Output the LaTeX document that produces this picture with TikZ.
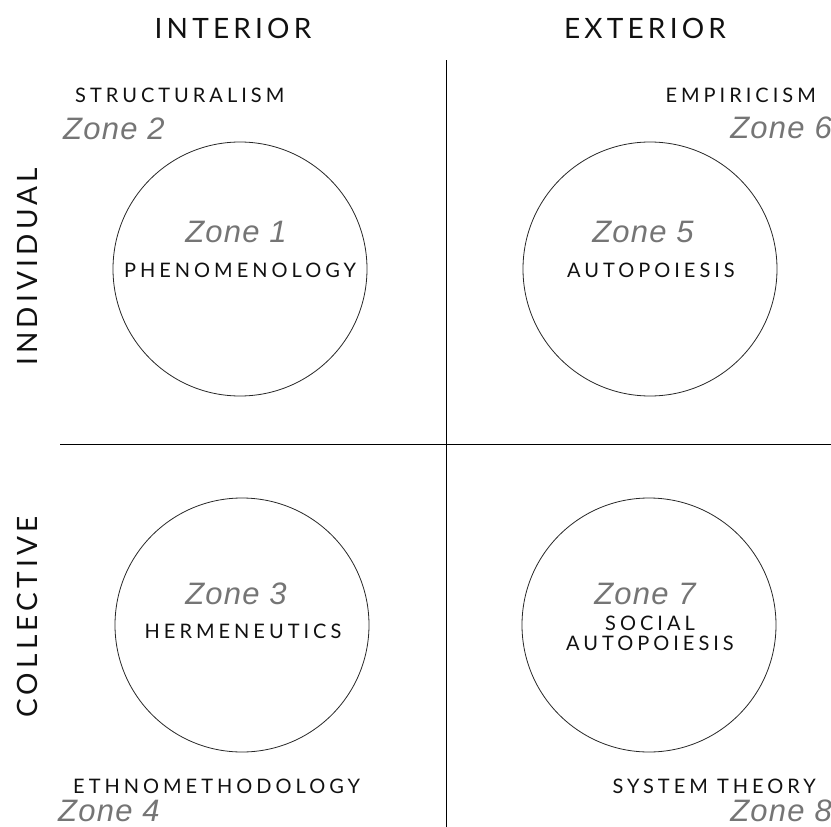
\documentclass[tikz,border=0pt]{standalone}
\usepackage{fontspec}
\setmainfont{Lato}
\newfontfamily\capsfont[LetterSpace=20]{Lato}
\newfontfamily\bigcaps[LetterSpace=15]{Lato}
\newfontfamily\zonefont[LetterSpace=4]{Liberation Sans}
\definecolor{zonegray}{HTML}{757575}
\definecolor{inkc}{HTML}{111111}
\tikzset{
  axislabel/.style={inner sep=0pt, text=inkc, font=\bigcaps\fontsize{28}{28}\selectfont},
  smallcaps/.style={inner sep=0pt, text=inkc, font=\capsfont\fontsize{20}{20}\selectfont},
  zonelabel/.style={inner sep=0pt, text=zonegray, font=\zonefont\itshape\fontsize{31}{31}\selectfont},
  zonecirc/.style={circle, draw=black!85, line width=0.8pt, minimum size=254pt, inner sep=0pt},
  axisline/.style={draw=black, line width=0.9pt}
}
\begin{document}
\begin{tikzpicture}[x=1pt,y=-1pt]
\useasboundingbox (0,0) rectangle (831,827);
% axes
\coordinate (vtop) at (446,60);
\coordinate (vbot) at (446,827);
\coordinate (hleft) at (60,444);
\coordinate (hright) at (831,444);
\draw[axisline] (vtop) -- (vbot);
\draw[axisline] (hleft) -- (hright);
% headings
\node[axislabel, anchor=base] (interior) at (233,38) {INTERIOR};
\node[axislabel, anchor=base] (exterior) at (645,38) {EXTERIOR};
\node[axislabel, rotate=90, anchor=base] (individual) at (37,267) {INDIVIDUAL};
\node[axislabel, rotate=90, anchor=base] (collective) at (37,617) {COLLECTIVE};
% circles
\node[zonecirc] (c1) at (240,269) {};
\node[zonecirc] (c5) at (650,269) {};
\node[zonecirc] (c3) at (242,625) {};
\node[zonecirc] (c7) at (649,625) {};
% circle texts
\node[zonelabel, anchor=base] (z1) at (236,242) {Zone 1};
\node[smallcaps, anchor=base] (t1) at (240,277) {PHENOMENOLOGY};
\node[zonelabel, anchor=base] (z5) at (643,242) {Zone 5};
\node[smallcaps, anchor=base] (t5) at (651,277) {AUTOPOIESIS};
\node[zonelabel, anchor=base] (z3) at (236,604) {Zone 3};
\node[smallcaps, anchor=base] (t3) at (243,638) {HERMENEUTICS};
\node[zonelabel, anchor=base] (z7) at (645,604) {Zone 7};
\node[smallcaps, anchor=base] (t7a) at (650,630) {SOCIAL};
\node[smallcaps, anchor=base] (t7b) at (650,650) {AUTOPOIESIS};
% corner texts
\node[smallcaps, anchor=base west] (t2) at (75,102) {STRUCTURALISM};
\node[zonelabel, anchor=base west] (z2) at (63,139) {Zone 2};
\node[smallcaps, anchor=base east] (t6) at (816,102) {EMPIRICISM};
\node[zonelabel, anchor=base east] (z6) at (832,138) {Zone 6};
\node[smallcaps, anchor=base west] (t4) at (73,793) {ETHNOMETHODOLOGY};
\node[zonelabel, anchor=base west] (z4) at (58,821) {Zone 4};
\node[smallcaps, anchor=base east] (t8) at (816,793) {SYSTEM THEORY};
\node[zonelabel, anchor=base east] (z8) at (832,821) {Zone 8};
\end{tikzpicture}
\end{document}
